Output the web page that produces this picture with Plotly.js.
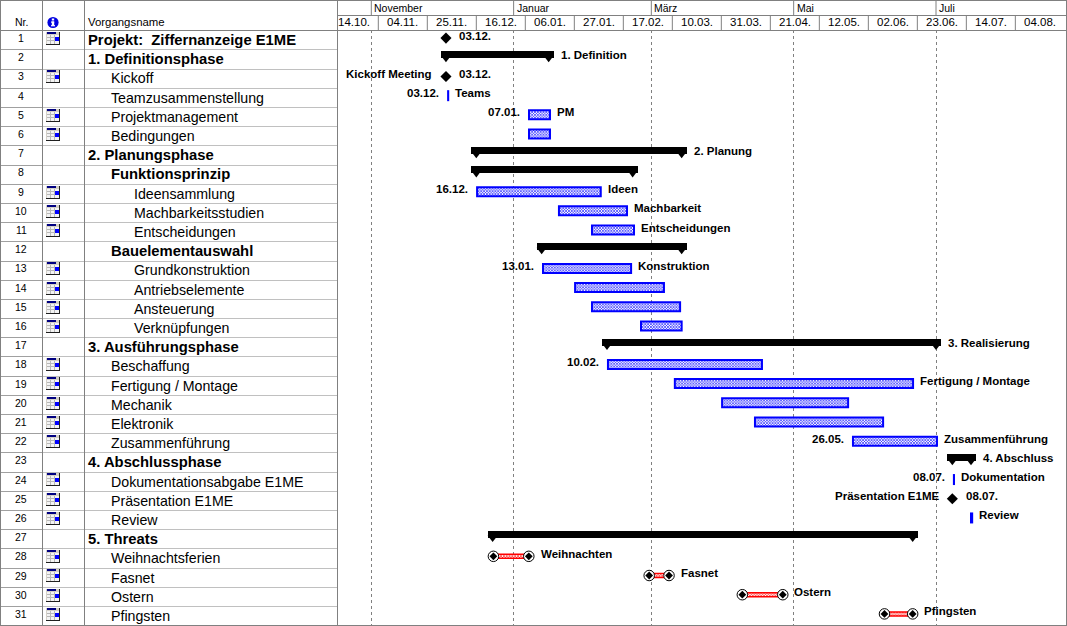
<!DOCTYPE html>
<html>
<head>
<meta charset="utf-8">
<script src="https://cdn.plot.ly/plotly-3.0.1.min.js"></script>
<style>html,body{margin:0;padding:0;background:#fff;overflow:hidden}#chart{width:1067px;height:626px}</style>
</head>
<body>
<div id="chart"></div>
<script>
// ---------- table ----------
const rowNames = ["Projekt:\u00a0\u00a0Ziffernanzeige E1ME","1. Definitionsphase","Kickoff","Teamzusammenstellung","Projektmanagement","Bedingungen","2. Planungsphase","Funktionsprinzip","Ideensammlung","Machbarkeitsstudien","Entscheidungen","Bauelementauswahl","Grundkonstruktion","Antriebselemente","Ansteuerung","Verknüpfungen","3. Ausführungsphase","Beschaffung","Fertigung / Montage","Mechanik","Elektronik","Zusammenführung","4. Abschlussphase","Dokumentationsabgabe E1ME","Präsentation E1ME","Review","5. Threats","Weihnachtsferien","Fasnet","Ostern","Pfingsten"];
const rowLevels = [0,0,1,1,1,1,0,1,2,2,2,1,2,2,2,2,0,1,1,1,1,1,0,1,1,1,0,1,1,1,1];
const boldRows = [1,2,7,8,12,17,23,27];
const iconRows = [1,3,5,6,9,10,11,13,14,15,16,18,19,20,21,22,24,25,26,28,29,30,31];

// ---------- time scale ----------
const months = [["November","2002-11-01"],["Januar","2003-01-01"],["März","2003-03-01"],["Mai","2003-05-01"],["Juli","2003-07-01"]];
const weeks = [["14.10.","2002-10-14"],["04.11.","2002-11-04"],["25.11.","2002-11-25"],["16.12.","2002-12-16"],["06.01.","2003-01-06"],["27.01.","2003-01-27"],["17.02.","2003-02-17"],["10.03.","2003-03-10"],["31.03.","2003-03-31"],["21.04.","2003-04-21"],["12.05.","2003-05-12"],["02.06.","2003-06-02"],["23.06.","2003-06-23"],["14.07.","2003-07-14"],["04.08.","2003-08-04"]];
const timeStart = "2002-10-17 07:12";
const timeEnd = "2003-08-25 17:00";

// ---------- schedule: [row, start, end] ----------
const summaries = [
 [2,"2002-12-03","2003-01-16"],[7,"2002-12-16","2003-03-14"],[8,"2002-12-16","2003-02-21"],
 [12,"2003-01-13","2003-03-14"],[17,"2003-02-10","2003-07-01"],[23,"2003-07-08","2003-07-16"],
 [27,"2002-12-23","2003-06-21"]];
const tasks = [
 [4,"2002-12-03 22:00","2002-12-03 23:00"],[5,"2003-01-07 14:00","2003-01-16 14:00"],[6,"2003-01-07 14:00","2003-01-16 14:00"],
 [9,"2002-12-16 08:00","2003-02-07 08:00"],[10,"2003-01-20 10:00","2003-02-18 14:00"],[11,"2003-02-03 14:00","2003-02-21 14:00"],
 [13,"2003-01-13 14:00","2003-02-20 08:00"],[14,"2003-01-27 08:00","2003-03-06 10:00"],[15,"2003-02-03 14:00","2003-03-13 08:00"],
 [16,"2003-02-24 14:00","2003-03-14 00:00"],[18,"2003-02-10 10:00","2003-04-17 10:00"],[19,"2003-03-11 02:00","2003-06-21 04:00"],
 [20,"2003-03-31 08:00","2003-05-24 08:00"],[21,"2003-04-14 10:00","2003-06-08 08:00"],[22,"2003-05-26 10:00","2003-07-01 10:00"],
 [24,"2003-07-08 16:00","2003-07-08 17:00"],[26,"2003-07-16 00:00","2003-07-16 12:00"]];
const milestones = [[1,"2002-12-03"],[3,"2002-12-03"],[25,"2003-07-08"]];
const threats = [[28,"2002-12-23 08:00","2003-01-07 12:00"],[29,"2003-02-28 02:00","2003-03-08 14:00"],[30,"2003-04-09 00:00","2003-04-26 08:00"],[31,"2003-06-08 22:00","2003-06-21 00:00"]];

// ---------- bar labels ----------
const rightLabels = [[1,"03.12."],[2,"1. Definition"],[3,"03.12."],[4,"Teams"],[5,"PM"],[7,"2. Planung"],[9,"Ideen"],[10,"Machbarkeit"],[11,"Entscheidungen"],[13,"Konstruktion"],[17,"3. Realisierung"],[19,"Fertigung / Montage"],[22,"Zusammenführung"],[23,"4. Abschluss"],[24,"Dokumentation"],[25,"08.07."],[26,"Review"],[28,"Weihnachten"],[29,"Fasnet"],[30,"Ostern"],[31,"Pfingsten"]];
const leftLabels = [[3,"Kickoff Meeting"],[4,"03.12."],[5,"07.01."],[9,"16.12."],[13,"13.01."],[18,"10.02."],[22,"26.05."],[24,"08.07."],[25,"Präsentation E1ME"]];

// ---------- style / layout constants ----------
const W = 1067, H = 626;
const FONT = "Liberation Sans, Arial, sans-serif";
const headY = 30, bottomY = 625, rowH = (bottomY - headY) / 31, markLift = 1.5;
const LINE = "#808080", LIGHT = "#c0c0c0", BLUE = "#0000ff", RED = "#ff0000";
const px = v => v / W, py = v => 1 - v / H;
const DAY = 864e5, pxPerDay = 7 / 3;
const ms = s => Date.parse(s.replace(" ", "T") + (s.length > 10 ? ":00Z" : "T00:00:00Z"));
const iso = t => new Date(t).toISOString().replace("T", " ").slice(0, 19);
const rowOff = markLift / rowH;
const over = 5 / pxPerDay * DAY;
const check = {shape: "x", size: 2, solidity: 0.5, fgcolor: BLUE, bgcolor: "#fff", fillmode: "replace"};

const traces = [
 {type:"bar",orientation:"h",name:"summary",y:summaries.map(r=>r[0]-2.5/rowH),
  base:summaries.map(r=>iso(ms(r[1])-over)),x:summaries.map(r=>ms(r[2])-ms(r[1])+2*over),
  width:7/rowH,marker:{color:"#000",line:{width:0}},hoverinfo:"skip"},
 {type:"bar",orientation:"h",name:"tasks",y:tasks.map(r=>r[0]),base:tasks.map(r=>r[1]),x:tasks.map(r=>ms(r[2])-ms(r[1])),
  width:9/rowH,marker:{color:"#fff",pattern:check,line:{color:BLUE,width:2}},hoverinfo:"skip"},
 {type:"bar",orientation:"h",name:"threats",y:threats.map(r=>r[0]),base:threats.map(r=>r[1]),x:threats.map(r=>ms(r[2])-ms(r[1])),
  width:4/rowH,marker:{color:"#fff",pattern:Object.assign({},check,{fgcolor:RED}),line:{color:RED,width:1.5}},hoverinfo:"skip"},
 {type:"scatter",mode:"markers",name:"summary ends",
  x:summaries.flatMap(r=>[r[1],r[2]]),y:summaries.flatMap(r=>[r[0]+0.03,r[0]+0.03]),
  marker:{symbol:"triangle-down",size:8.7,color:"#000"},hoverinfo:"skip"},
 {type:"scatter",mode:"markers",name:"milestones",x:milestones.map(r=>r[1]),y:milestones.map(r=>r[0]),
  marker:{symbol:"diamond",size:8.5,color:"#000"},hoverinfo:"skip"},
 {type:"scatter",mode:"markers",name:"threat ends",x:threats.flatMap(r=>[r[1],r[2]]),y:threats.flatMap(r=>[r[0],r[0]]),
  marker:{symbol:"circle",size:10.5,color:"#fff",line:{color:"#000",width:1}},hoverinfo:"skip"},
 {type:"scatter",mode:"markers",name:"threat centres",x:threats.flatMap(r=>[r[1],r[2]]),y:threats.flatMap(r=>[r[0],r[0]]),
  marker:{symbol:"diamond",size:6,color:"#000"},hoverinfo:"skip"}
];

// ---------- shapes ----------
const hline=(y,x0,x1,c)=>({type:"line",xref:"paper",yref:"paper",x0:px(x0),x1:px(x1),y0:py(y),y1:py(y),line:{color:c,width:1},layer:"below"});
const vline=(x,y0,y1,c)=>({type:"line",xref:"paper",yref:"paper",x0:px(x),x1:px(x),y0:py(y0),y1:py(y1),line:{color:c,width:1},layer:"below"});
const shapes=[];
for(let i=1;i<31;i++){
  const y=Math.round(headY+rowH*i+0.2)+0.5;
  shapes.push(hline(y,0,42,"#a0a0a0"), hline(y,42,337,LIGHT));
}
[0.5,1066.5].forEach(x=>shapes.push(vline(x,0,626,LINE)));
[42.5,84.5,337.5].forEach(x=>shapes.push(vline(x,0,625.5,LINE)));
[0.5,30.5,625.5].forEach(y=>shapes.push(hline(y,0,1067,LINE)));
shapes.push(hline(15.5,337,1067,LINE));
months.forEach(m=>shapes.push({type:"line",xref:"x",yref:"paper",x0:m[1],x1:m[1],y0:py(0),y1:py(15),line:{color:LINE,width:1},layer:"below"}));
weeks.slice(1).forEach(w=>shapes.push({type:"line",xref:"x",yref:"paper",x0:w[1],x1:w[1],y0:py(15),y1:py(30),line:{color:LINE,width:1},layer:"below"}));

// ---------- annotations ----------
const ann=[];
const txt=(o)=>Object.assign({showarrow:false,borderpad:0,borderwidth:0,font:{family:FONT,size:10.5,color:"#000"}},o);
rowNames.forEach((n,i)=>{
  const r=i+1, b=boldRows.includes(r);
  ann.push(txt({xref:"paper",yref:"y",x:px(21),y:r,xanchor:"center",yanchor:"middle",text:String(r)}));
  ann.push(txt({xref:"paper",yref:"y",x:px(88+rowLevels[i]*23),y:r,yshift:-2,xanchor:"left",yanchor:"middle",text:b?"<b>"+n+"</b>":n,font:{family:FONT,size:b?14.8:14.2,color:"#000"}}));
});
ann.push(txt({xref:"paper",yref:"paper",x:px(21),y:py(22),xanchor:"center",yanchor:"middle",text:"Nr."}));
ann.push(txt({xref:"paper",yref:"paper",x:px(88),y:py(22),xanchor:"left",yanchor:"middle",text:"Vorgangsname",font:{family:FONT,size:11.4,color:"#000"}}));
months.forEach(m=>ann.push(txt({xref:"x",yref:"paper",x:m[1],xshift:3,y:py(8),xanchor:"left",yanchor:"middle",text:m[0]})));
weeks.forEach(w=>ann.push(txt({xref:"x",yref:"paper",x:iso(ms(w[1])+10.5*DAY),y:py(22.5),xanchor:"center",yanchor:"middle",text:w[0],font:{family:FONT,size:11.5,color:"#000"}})));

const endOf=(r)=>{
  let m;
  if((m=summaries.find(a=>a[0]===r)))return [m[1],m[2],12,0];
  if((m=tasks.find(a=>a[0]===r)))return [m[1],m[2],7,-9];
  if((m=milestones.find(a=>a[0]===r)))return [m[1],m[1],13.5,-13.5];
  m=threats.find(a=>a[0]===r);return [m[1],m[2],11.7,0];
};
const lab=(r,t,left)=>{
  const e=endOf(r);
  ann.push(txt({xref:"x",yref:"y",x:left?e[0]:e[1],y:r,yshift:2.5,xshift:left?e[3]:e[2],xanchor:left?"right":"left",yanchor:"middle",
    text:"<b>"+t+"</b>",font:{family:FONT,size:11.5,color:"#000"}}));
};
rightLabels.forEach(l=>lab(l[0],l[1],false));
leftLabels.forEach(l=>lab(l[0],l[1],true));

// ---------- icons ----------
const svgURI=s=>"data:image/svg+xml;base64,"+btoa(s);
const calIcon=svgURI('<svg xmlns="http://www.w3.org/2000/svg" width="14" height="13" shape-rendering="crispEdges">'+
 '<rect width="14" height="13" fill="#d4d0c8"/><rect x="1" y="0" width="9" height="2" fill="#000080"/>'+
 '<rect x="1" y="3" width="12" height="9" fill="#f4f4f4"/>'+
 '<path d="M4.5 3v9M8.5 3v9M1 5.5h12M1 8.5h12" stroke="#b8b8b8" stroke-width="1" fill="none"/>'+
 '<rect x="9" y="5" width="4" height="4" fill="#0000ff"/><rect x="0" y="12" width="14" height="1" fill="#202020"/><rect x="13" y="0" width="1" height="13" fill="#202020"/></svg>');
const infoIcon=svgURI('<svg xmlns="http://www.w3.org/2000/svg" width="12" height="12">'+
 '<circle cx="6" cy="6" r="5.6" fill="#0000e0"/><rect x="4.8" y="2" width="2.4" height="2" fill="#fff"/><rect x="4" y="5" width="3.2" height="1.2" fill="#fff"/><rect x="4.8" y="5" width="2.4" height="4" fill="#fff"/><rect x="4" y="8.6" width="4" height="1.2" fill="#fff"/></svg>');
const images=iconRows.map(r=>({source:calIcon,xref:"paper",yref:"paper",x:px(46),
  y:py(Math.round(headY+rowH*(r-0.5)-7.6)),sizex:14/W,sizey:13/H,xanchor:"left",yanchor:"top",sizing:"stretch",layer:"above"}));
images.push({source:infoIcon,xref:"paper",yref:"paper",x:px(47),y:py(16.5),sizex:12/W,sizey:12/H,xanchor:"left",yanchor:"top",sizing:"stretch",layer:"above"});

const layout={
  width:W,height:H,margin:{l:0,r:0,t:0,b:0},paper_bgcolor:"#fff",plot_bgcolor:"#fff",showlegend:false,
  barmode:"overlay",bargap:0,
  xaxis:{type:"date",domain:[337/W,1066/W],range:[timeStart,timeEnd],tick0:"2002-11-01",dtick:"M2",
    showgrid:true,griddash:"dot",gridcolor:"#808080",gridwidth:1,showticklabels:false,ticks:"",zeroline:false,showline:false},
  yaxis:{domain:[1-bottomY/H,1-headY/H],range:[31.5+rowOff,0.5+rowOff],showgrid:false,showticklabels:false,ticks:"",zeroline:false,showline:false},
  shapes:shapes,annotations:ann,images:images
};
Plotly.newPlot("chart",traces,layout,{staticPlot:true,displayModeBar:false});
</script>
</body>
</html>
